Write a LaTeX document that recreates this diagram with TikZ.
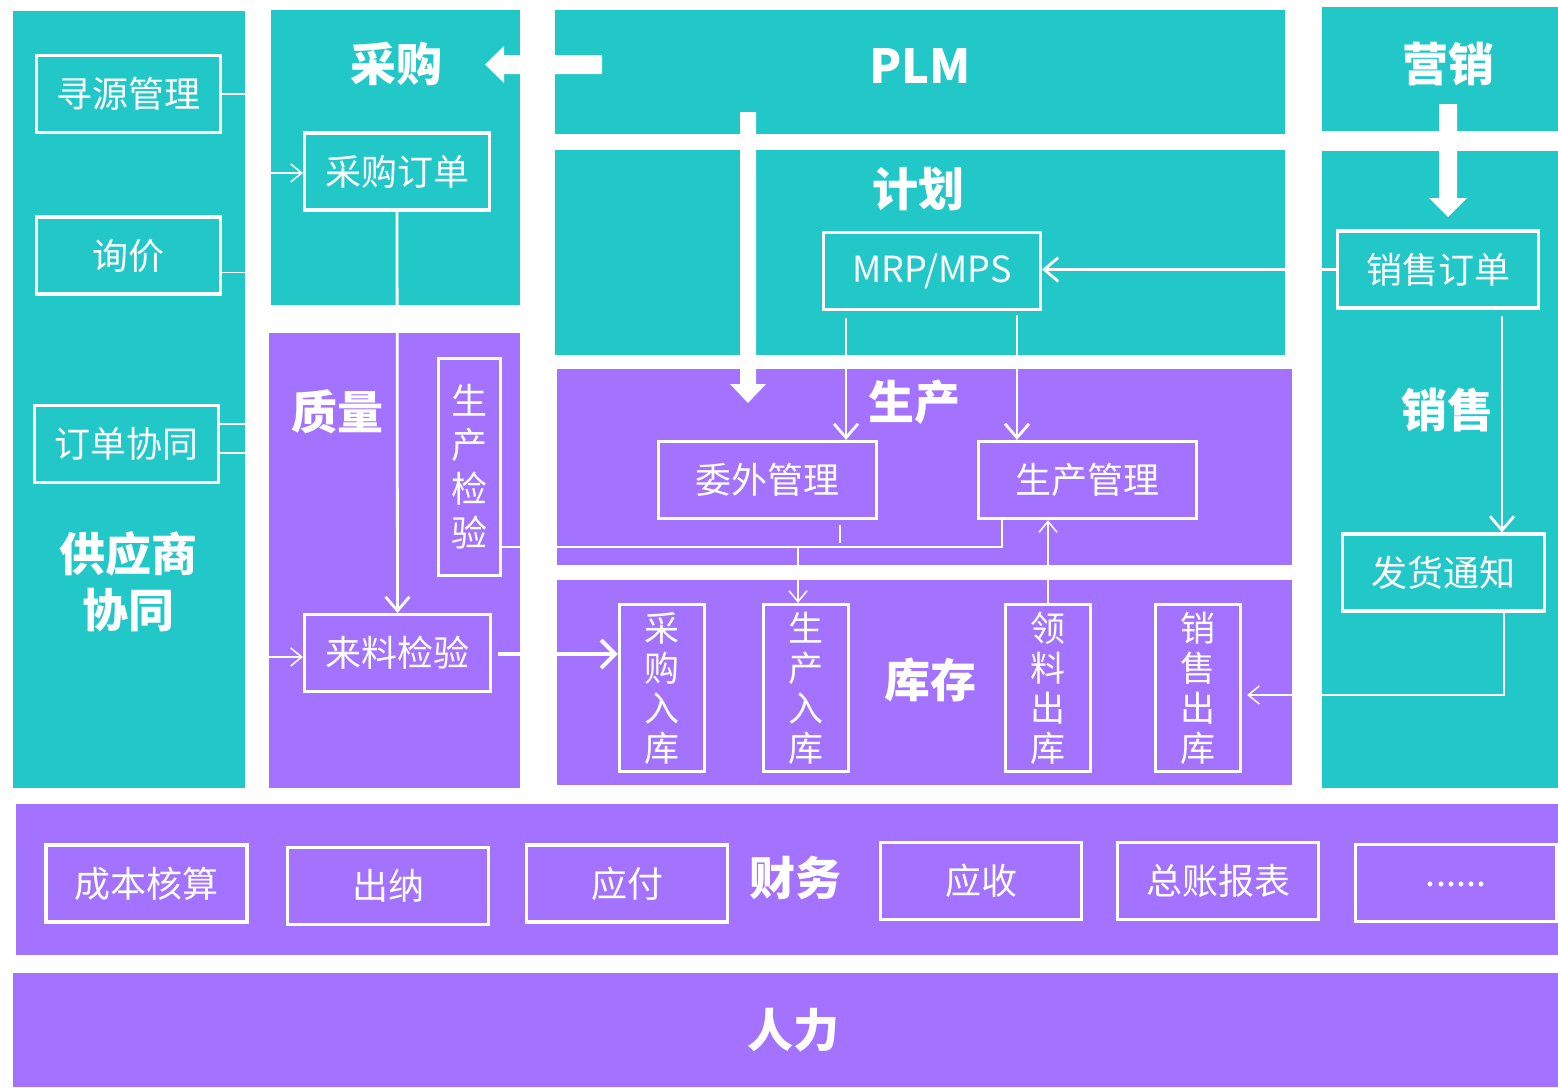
\documentclass[tikz,border=0pt]{standalone}
\usepackage{fontspec}
\setmainfont{Noto Sans CJK SC}
\usetikzlibrary{arrows.meta}
\definecolor{tealc}{RGB}{34,200,200}
\definecolor{purp}{RGB}{163,114,255}
\begin{document}
\begin{tikzpicture}[x=1pt,y=-1pt,
  box/.style={draw=white, line width=3.2pt, text=white, inner sep=0pt,
    font=\fontsize{36}{40}\selectfont, minimum width=184, minimum height=77},
  vbox/.style={draw=white, line width=3.2pt, text=white, inner sep=0pt, align=center,
    font=\fontsize{35}{40}\selectfont, minimum width=85, minimum height=167},
  fbox/.style={box, minimum width=201, minimum height=77},
  ttl/.style={text=white, inner sep=0pt, font=\fontsize{46}{56}\selectfont\bfseries, align=center},
  tline/.style={draw=white, line width=1.5pt},
  mline/.style={draw=white, line width=2.8pt},
  marr/.style={mline, -{Straight Barb[length=14pt,width=24pt]}},
  tarr/.style={tline, -{Straight Barb[length=11pt,width=18pt]}},
  barr/.style={draw=white, line width=4pt, -{Straight Barb[length=14pt,width=28pt]}}
]
\useasboundingbox (0,0) rectangle (1558,1087);
\fill[white] (0,0) rectangle (1558,1087);
% panels
\fill[tealc] (13,11) rectangle (245,788);
\fill[tealc] (271,10) rectangle (520,305);
\fill[tealc] (555,10) rectangle (1285,134);
\fill[tealc] (555,150) rectangle (1285,355);
\fill[tealc] (1322,7) rectangle (1558,131);
\fill[tealc] (1322,151) rectangle (1558,788);
\fill[purp] (269,333) rectangle (520,788);
\fill[purp] (557,369) rectangle (1292,565);
\fill[purp] (557,580) rectangle (1292,785);
\fill[purp] (16,804) rectangle (1558,955);
\fill[purp] (13,973) rectangle (1558,1087);

% big arrows
\fill[white] (602,55) -- (504,55) -- (504,46) -- (485,64.5) -- (504,83) -- (504,74) -- (602,74) -- cycle;
\fill[white] (740,112) -- (756,112) -- (756,384) -- (766,384) -- (748,403) -- (730,384) -- (740,384) -- cycle;
\fill[white] (1439,104) -- (1457,104) -- (1457,198) -- (1467,198) -- (1448,217) -- (1429,198) -- (1439,198) -- cycle;

% titles
\node[ttl] (tcg) at (396,64) {采购};
\node[ttl] (tzl) at (337,412) {质量};
\node[ttl, font=\fontsize{47}{56}\selectfont\bfseries] (tplm) at (920,66) {PLM};
\node[ttl] (tjh) at (918,189) {计划};
\node[ttl] (tyx) at (1448,64) {营销};
\node[ttl] (tsc) at (914,402) {生产};
\node[ttl] (txs) at (1447,410) {销售};
\node[ttl] (tkc) at (930,680) {库存};
\node[ttl] (tgys) at (128,582) {供应商\\协同};
\node[ttl] (tcw) at (795,878) {财务};
\node[ttl] (trl) at (793,1030) {人力};

% boxes
\node[box] (xy) at (128.5,94) {寻源管理};
\node[box] (xj) at (128.5,255.5) {询价};
\node[box] (dd) at (126.5,444) {订单协同};
\node[box, minimum width=185] (cgdd) at (397,171.5) {采购订单};
\node[vbox, minimum width=62, minimum height=217, font=\fontsize{36}{44}\selectfont] (scjy) at (469.5,467) {生\\产\\检\\验};
\node[box, minimum width=186] (lljy) at (397.5,653) {来料检验};
\node[box, minimum width=217, font=\fontsize{36}{40}\selectfont] (mrp) at (932,271) {MRP/MPS};
\node[box, minimum width=201] (xsdd) at (1438,269.5) {销售订单};
\node[box, minimum width=202] (fhtz) at (1443.5,572.5) {发货通知};
\node[box, minimum width=218] (ww) at (767.5,480) {委外管理};
\node[box, minimum width=218] (scgl) at (1087.5,480) {生产管理};
\node[vbox] (cgrk) at (662,688) {采\\购\\入\\库};
\node[vbox] (srk) at (806,688) {生\\产\\入\\库};
\node[vbox] (llck) at (1048,688) {领\\料\\出\\库};
\node[vbox] (xsck) at (1198,688) {销\\售\\出\\库};
\node[fbox] (cbhs) at (146.5,883.5) {成本核算};
\node[fbox] (cn) at (388,886) {出纳};
\node[fbox] (yf) at (627,883.5) {应付};
\node[fbox] (ys) at (981,881) {应收};
\node[fbox] (zzbb) at (1218,881) {总账报表};
\node[fbox] (more) at (1456,883) {\raisebox{-8pt}{......}};

% connectors
\draw[tline] (xy.east) -- ++(23,0);
\draw[tline] ([yshift=-17pt]xj.east) -- ++(23,0);
\draw[tline] ([yshift=20pt]dd.east) -- ++(25,0);
\draw[tline] ([yshift=-9pt]dd.east) -- ++(25,0);
\draw[tarr] ([xshift=-32pt,yshift=-1.5pt]cgdd.west) -- ([yshift=-1.5pt]cgdd.west);
\draw[marr] (cgdd.south) -- (lljy.north);
\draw[tarr] ([xshift=-34pt,yshift=-4pt]lljy.west) -- ([yshift=-4pt]lljy.west);
\draw[barr] ([xshift=6pt,yshift=-1pt]lljy.east) -- ([yshift=-1pt]lljy.east -| cgrk.west);
\draw[marr] (xsdd.west) -- (xsdd.west -| mrp.east);
\coordinate (m1) at ([xshift=-86pt,yshift=-7pt]mrp.south);
\draw[marr] (m1) -- (m1 |- ww.north);
\coordinate (m2) at ([xshift=85pt,yshift=-4pt]mrp.south);
\draw[marr] (m2) -- (m2 |- scgl.north);
\coordinate (s1) at ([xshift=64pt,yshift=-6pt]xsdd.south);
\draw[marr] (s1) -- (s1 |- fhtz.north);
\coordinate (f1) at ([xshift=60.5pt]fhtz.south);
\draw[tarr, shorten >=5pt] (f1) |- ([yshift=-7pt]xsck.east);
\draw[tline] ([xshift=72.5pt,yshift=-5pt]ww.south) -- ++(0,18);
\coordinate (g1) at ([xshift=-85.5pt]scgl.south);
\draw[tline] (g1) |- ([yshift=-80pt]scjy.east);
\coordinate (g2) at (798,547);
\draw[tarr] (g2) -- (g2 |- srk.north);
\draw[tarr] (llck.north) -- (llck.north |- scgl.south);
\end{tikzpicture}
\end{document}
